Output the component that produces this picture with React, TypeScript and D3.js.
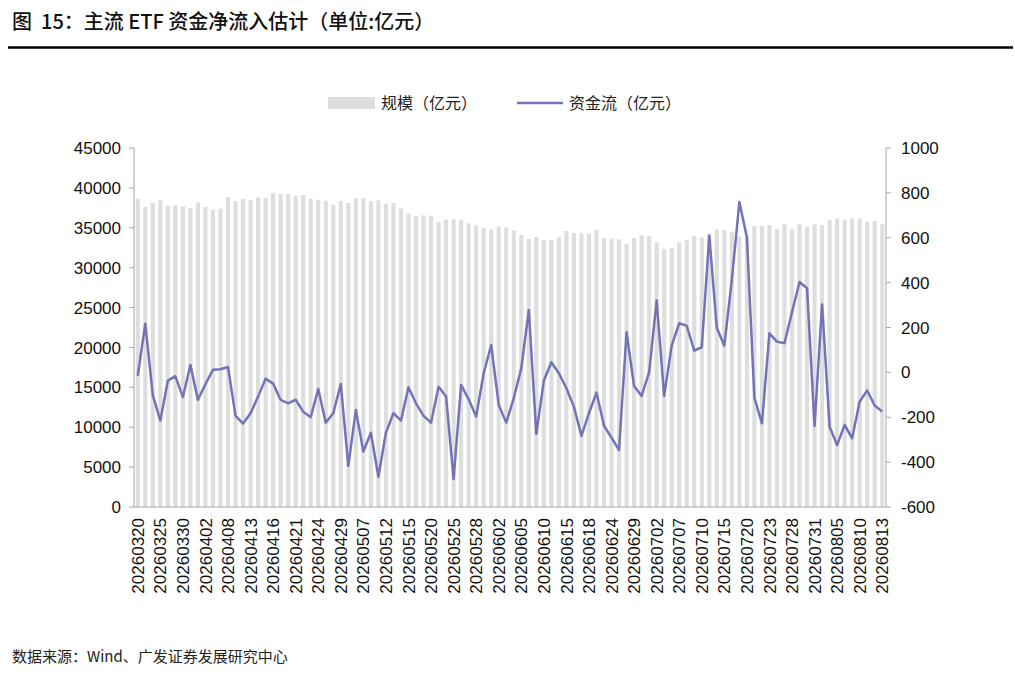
import React from 'react';
import * as d3 from 'd3';

// trading days, 20260320 - 20260813
const dates = [
  '20260320', '20260323', '20260324', '20260325', '20260326', '20260327', '20260330', '20260331', '20260401', '20260402',
  '20260403', '20260407', '20260408', '20260409', '20260410', '20260413', '20260414', '20260415', '20260416', '20260417',
  '20260420', '20260421', '20260422', '20260423', '20260424', '20260427', '20260428', '20260429', '20260430', '20260506',
  '20260507', '20260508', '20260511', '20260512', '20260513', '20260514', '20260515', '20260518', '20260519', '20260520',
  '20260521', '20260522', '20260525', '20260526', '20260527', '20260528', '20260529', '20260601', '20260602', '20260603',
  '20260604', '20260605', '20260608', '20260609', '20260610', '20260611', '20260612', '20260615', '20260616', '20260617',
  '20260618', '20260622', '20260623', '20260624', '20260625', '20260626', '20260629', '20260630', '20260701', '20260702',
  '20260703', '20260706', '20260707', '20260708', '20260709', '20260710', '20260713', '20260714', '20260715', '20260716',
  '20260717', '20260720', '20260721', '20260722', '20260723', '20260724', '20260727', '20260728', '20260729', '20260730',
  '20260731', '20260803', '20260804', '20260805', '20260806', '20260807', '20260810', '20260811', '20260812', '20260813',
];

// 规模（亿元）
const scale = [
  38650, 37600, 38100, 38520, 37770, 37815, 37690, 37480, 38190, 37600,
  37230, 37395, 38860, 38360, 38610, 38480, 38820, 38730, 39360, 39235,
  39235, 39025, 39110, 38610, 38480, 38400, 37900, 38360, 38100, 38690,
  38690, 38360, 38440, 37980, 38110, 37440, 36810, 36480, 36560, 36440,
  35720, 36020, 36060, 36020, 35560, 35310, 34970, 34810, 35180, 35060,
  34700, 34100, 33590, 33850, 33470, 33470, 33850, 34600, 34350, 34310,
  34310, 34760, 33720, 33640, 33550, 32970, 33720, 34060, 34010, 33180,
  32340, 32470, 33180, 33470, 33970, 33800, 34300, 34800, 34720, 34510,
  33900, 34000, 35220, 35220, 35350, 34810, 35430, 34810, 35430, 35135,
  35430, 35350, 35975, 36190, 35975, 36190, 36190, 35765, 35850, 35430,
];

// 资金流（亿元）
const flow = [
  -15, 217, -101, -215, -37, -17, -110, 33, -122, -53,
  12, 14, 24, -194, -228, -182, -108, -28, -50, -123,
  -138, -122, -175, -200, -74, -224, -182, -52, -417, -168,
  -353, -269, -465, -269, -182, -215, -66, -138, -194, -224,
  -64, -108, -476, -56, -120, -197, -4, 122, -145, -224,
  -115, 18, 278, -274, -37, 45, -4, -71, -153, -283,
  -182, -90, -238, -291, -346, 179, -61, -105, 0, 320,
  -105, 119, 219, 207, 97, 112, 609, 199, 119, 412,
  759, 602, -113, -227, 174, 137, 130, 268, 403, 375,
  -239, 303, -242, -324, -234, -294, -130, -81, -148, -175,
];

const leftTicks = d3.range(0, 45001, 5000);
const rightTicks = d3.range(-600, 1001, 200);

const W = 1015;
const H = 674;
const left = 134;
const right = 886;
const top = 148;
const bottom = 507;

const numFont = '"Liberation Sans", Arial, sans-serif';
const cjkFont = '"Noto Sans CJK SC", "Liberation Sans", sans-serif';

export default function App() {
  const x = d3.scaleBand<string>().domain(dates).range([left, right]).paddingInner(0.45).paddingOuter(0.225);
  const yL = d3.scaleLinear().domain([0, 45000]).range([bottom, top]);
  const yR = d3.scaleLinear().domain([-600, 1000]).range([bottom, top]);
  const cx = (d: string) => (x(d) as number) + x.bandwidth() / 2;

  const line = d3
    .line<number>()
    .x((_, i) => cx(dates[i]))
    .y((d) => yR(d));

  const labelDates = dates.filter((_, i) => i % 3 === 0);

  return (
    <svg width={W} height={H} style={{ position: 'absolute', left: 0, top: 0, background: '#fff' }}>
      <text x={12} y={29} fontFamily={cjkFont} fontSize={20} fontWeight={500} fill="#111" style={{ whiteSpace: 'pre' }}>
        {'图  15：主流 ETF 资金净流入估计（单位:亿元）'}
      </text>
      <line x1={8} x2={1013} y1={47.5} y2={47.5} stroke="#000" strokeWidth={2.5} />

      {/* legend */}
      <rect x={328} y={97} width={47} height={12} fill="#dedede" />
      <text x={381} y={109} fontFamily={cjkFont} fontSize={16} fill="#222">规模（亿元）</text>
      <line x1={517} x2={563} y1={103} y2={103} stroke="#7374b8" strokeWidth={2.5} />
      <text x={569} y={109} fontFamily={cjkFont} fontSize={16} fill="#222">资金流（亿元）</text>

      {/* bars */}
      {scale.map((v, i) => (
        <rect key={i} x={x(dates[i])} y={yL(v)} width={x.bandwidth()} height={bottom - yL(v)} fill="#dedede" />
      ))}

      {/* axes */}
      <line x1={left} x2={left} y1={top} y2={bottom} stroke="#a6a6a6" />
      <line x1={right} x2={right} y1={top} y2={bottom} stroke="#a6a6a6" />
      <line x1={left} x2={right} y1={bottom} y2={bottom} stroke="#a6a6a6" />
      {leftTicks.map((t) => (
        <g key={t}>
          <line x1={left - 5} x2={left} y1={yL(t)} y2={yL(t)} stroke="#a6a6a6" />
          <text x={left - 13} y={yL(t)} dy="0.36em" textAnchor="end" fontFamily={numFont} fontSize={17} fill="#111">
            {t}
          </text>
        </g>
      ))}
      {rightTicks.map((t) => (
        <g key={t}>
          <line x1={right} x2={right + 5} y1={yR(t)} y2={yR(t)} stroke="#a6a6a6" />
          <text x={right + 15} y={yR(t)} dy="0.36em" textAnchor="start" fontFamily={numFont} fontSize={17} fill="#111">
            {t}
          </text>
        </g>
      ))}
      {labelDates.map((d) => (
        <text
          key={d}
          transform={`translate(${cx(d)},${bottom + 11}) rotate(-90)`}
          dy="0.36em"
          textAnchor="end"
          fontFamily={numFont}
          fontSize={17}
          fill="#111"
        >
          {d}
        </text>
      ))}

      {/* flow line */}
      <path d={line(flow) || ''} fill="none" stroke="#7374b8" strokeWidth={2.5} strokeLinejoin="round" />

      <text x={12} y={662} fontFamily={cjkFont} fontSize={15} fill="#222">
        数据来源：Wind、广发证券发展研究中心
      </text>
    </svg>
  );
}
